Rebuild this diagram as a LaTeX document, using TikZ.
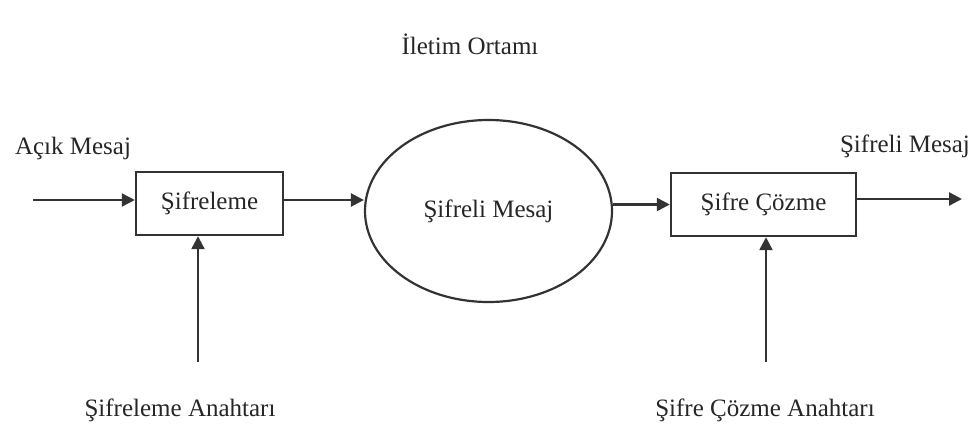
\documentclass[tikz,border=0pt]{standalone}
\usepackage{fontspec}
\setmainfont{Liberation Serif}
\usetikzlibrary{arrows.meta,shapes.geometric}
\begin{document}
\begin{tikzpicture}[x=1pt,y=-1pt,
  lbl/.style={font=\fontsize{25}{29}\selectfont, text=black!85, inner sep=0pt},
  box/.style={draw=black!80, line width=2.4pt, minimum width=147pt, minimum height=63pt, inner sep=0pt, font=\fontsize{25}{29}\selectfont, text=black!85},
  arr/.style={draw=black!80, line width=2.4pt, -{Triangle[length=13pt,width=13pt]}}]
\useasboundingbox (0,0) rectangle (980,428);
\node[lbl] (title) at (470,44) {İletim Ortamı};
\node[lbl] (inlbl) at (73,148) {Açık Mesaj};
\node[lbl] (outlbl) at (905,146) {Şifreli Mesaj};
\node[box] (box1) at (209.5,203.5) {Şifreleme};
\node[draw=black!80, line width=2.2pt, ellipse, minimum width=247pt, minimum height=182pt, inner sep=0pt, font=\fontsize{25}{29}\selectfont, text=black!85] (ell) at (488.5,211) {Şifreli Mesaj};
\node[box, minimum width=185pt] (box2) at (763.5,204.5) {Şifre Çözme};
\coordinate (in) at (33,200);
\coordinate (mid1) at (283,200);
\coordinate (out) at (962,199);
\coordinate (k1) at (198,362);
\coordinate (k2) at (766,362);
\node[lbl] (k1lbl) at (180,410) {Şifreleme Anahtarı};
\node[lbl] (k2lbl) at (765,410) {Şifre Çözme Anahtarı};
\draw[arr] (in) -- (in -| box1.west);
\draw[arr] (mid1 -| box1.east) -- (mid1 -| ell.west);
\draw[arr] (box2.west -| ell.east) -- (box2.west);
\draw[arr] (out -| box2.east) -- (out);
\draw[arr] (k1) -- (k1 |- box1.south);
\draw[arr] (k2) -- (k2 |- box2.south);
\end{tikzpicture}
\end{document}
